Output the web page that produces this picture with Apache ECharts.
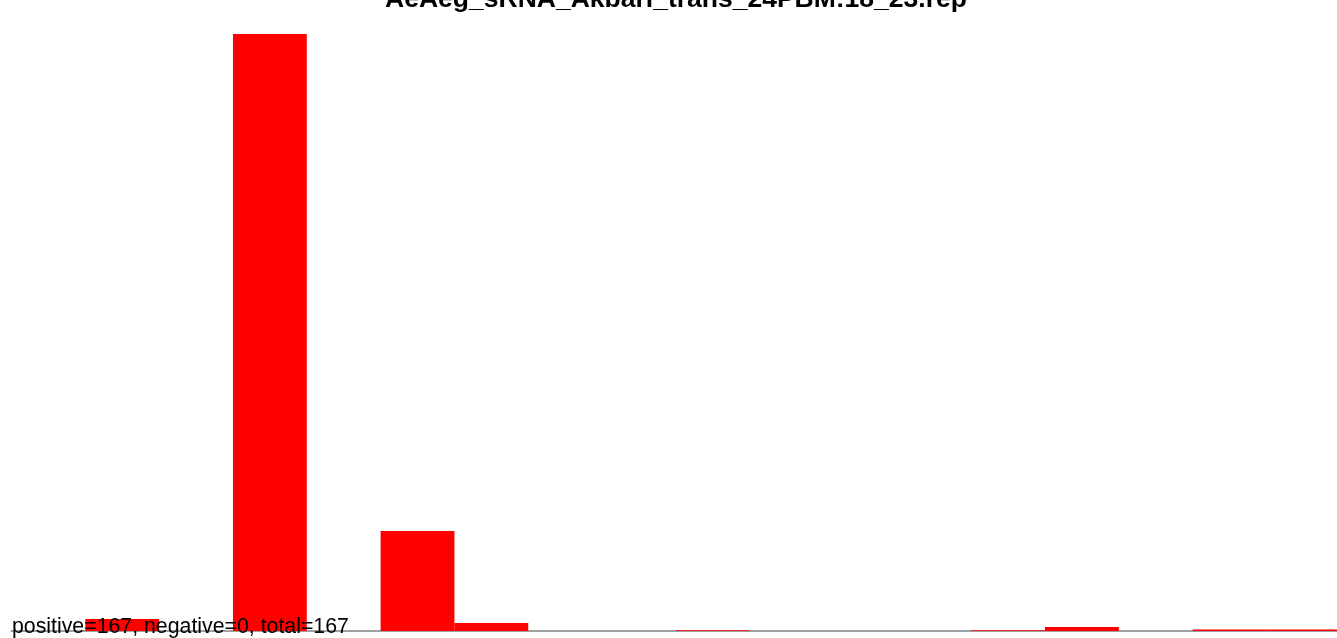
<!DOCTYPE html>
<html>
<head>
<meta charset="utf-8">
<script src="https://cdn.jsdelivr.net/npm/echarts@6/dist/echarts.min.js"></script>
<style>
html,body{margin:0;padding:0;background:#fff;overflow:hidden;width:1337px;height:638px;}
#chart{width:1341px;height:638px;}
</style>
</head>
<body>
<div id="chart"></div>
<script>
const titleText = 'AeAeg_sRNA_Akbari_trans_24PBM:18_23.rep';
const summaryText = 'positive=167, negative=0, total=167';
const categories = ['1','2','3','4','5','6','7','8','9','10','11','12','13','14','15','16','17','18'];
const values = [0, 2.76, 0, 137.4, 0, 23.0, 1.84, 0, 0, 0.16, 0, 0, 0, 0.16, 0.92, 0, 0.35, 0.35];

const chart = echarts.init(document.getElementById('chart'), null, {renderer: 'canvas'});
chart.setOption({
  animation: false,
  backgroundColor: '#ffffff',
  grid: {left: 11.5, top: 34, width: 1328.8, height: 597},
  xAxis: {
    type: 'category',
    data: categories,
    axisLine: {show: true, lineStyle: {color: '#a0a0a0', width: 2}},
    axisTick: {show: false},
    axisLabel: {show: false},
    splitLine: {show: false}
  },
  yAxis: {
    type: 'value',
    min: 0,
    max: 137.4,
    show: false,
    splitLine: {show: false}
  },
  series: [{
    type: 'bar',
    data: values,
    barCategoryGap: '0%',
    itemStyle: {color: '#ff0000'},
    z: 2
  }],
  graphic: [
    {
      type: 'text',
      z: 100,
      style: {
        text: titleText,
        x: 676, y: 0,
        align: 'center',
        verticalAlign: 'middle',
        fontFamily: 'Liberation Sans, Arial, sans-serif',
        fontWeight: 'bold',
        fontSize: 26.5,
        fill: '#000'
      }
    },
    {
      type: 'text',
      z: 100,
      style: {
        text: summaryText,
        x: 12, y: 627,
        align: 'left',
        verticalAlign: 'middle',
        fontFamily: 'Liberation Sans, Arial, sans-serif',
        fontSize: 21.3,
        fill: '#000'
      }
    }
  ]
});
</script>
</body>
</html>
